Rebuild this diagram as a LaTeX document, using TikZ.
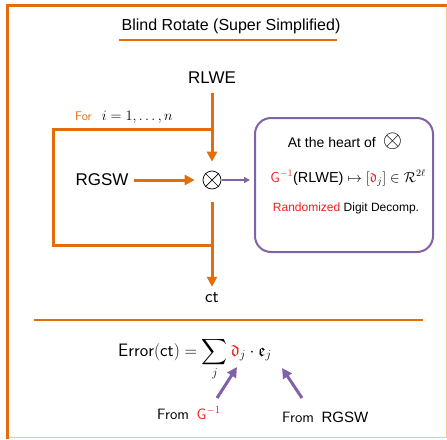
\documentclass[tikz,border=0pt]{standalone}
\usepackage{amsmath,amssymb}
\usepackage{fontspec}
\newfontfamily\arial{Liberation Sans}
\usetikzlibrary{arrows.meta}
\definecolor{brorange}{HTML}{E46C0A}
\definecolor{brpale}{HTML}{F6C79A}
\definecolor{brpurple}{HTML}{7F62A8}
\definecolor{brred}{HTML}{F01E1E}
\newcommand{\fsz}[1]{\fontsize{#1}{#1}\selectfont}
\begin{document}
\begin{tikzpicture}[x=1pt,y=-1pt,
  flow/.style={draw=brorange, line width=3pt, -{Triangle[width=10pt,length=10pt]}},
  wire/.style={draw=brorange, line width=3pt},
  hint/.style={draw=brpurple, line width=3pt, -{Triangle[width=10pt,length=10pt]}},
  link/.style={draw=brpurple, line width=1.6pt, -{Triangle[width=6pt,length=6pt]}},
  lbl/.style={inner sep=0pt, font=\arial\fsz{17}},
  boxtxt/.style={inner sep=0pt, font=\arial\fsz{14}},
  mul/.style={circle, draw, line width=0.7pt, minimum size=18pt, inner sep=0pt}
]
\useasboundingbox (0,0) rectangle (447,439);
% outer frame
\draw[brpale, line width=1pt] (7.5,5.5) rectangle (446,437.5);
\draw[brorange, line width=3pt] (7.5,439) -- (7.5,5.5) -- (447,5.5);

% title with underline
\node[inner sep=0pt, font=\arial\fsz{16}] (title) at (231,26) {Blind Rotate (Super Simplified)};
\draw[brorange, line width=2pt] (119,39.5) -- (337,39.5);

% blind rotation loop
\node[lbl] (rlwe) at (212,78) {RLWE};
\node[lbl] (rgsw) at (102,180) {RGSW};
\node[mul] (ot) at (212,180) {};
\draw[line width=0.7pt] (ot.north west) -- (ot.south east) (ot.north east) -- (ot.south west);
\node[inner sep=0pt, font=\sffamily\fsz{18}] (ct) at (212,298) {ct};

\coordinate (jt) at (212,129);
\coordinate (lt) at (53,129);
\coordinate (lb) at (53,245);
\coordinate (jb) at (212,245);
\draw[wire] (jt) -- (lt) -- (lb) -- (jb);
\draw[flow] ([yshift=-9pt]rlwe.south) -- ([yshift=9pt]ot.north);
\draw[flow] ([xshift=5pt]rgsw.east) -- ([xshift=-8pt]ot.west);
\draw[flow] ([yshift=-13pt]ot.south) -- ([yshift=6pt]ct.north);

\node[inner sep=0pt, anchor=base west] (loop) at (75,120)
  {{\color{brorange}\sffamily\fsz{12.5}For}\quad{\fsz{15}$i=1,\ldots,n$}};

% explanation box
\node[draw=brpurple, line width=2pt, rounded corners=16pt,
      minimum width=178pt, minimum height=134pt] (heart) at (344,185) {};
\draw[link] ([xshift=1pt]ot.east) -- ([xshift=-4pt]heart.west |- ot.east);
\node[boxtxt] (h1) at (345,141)
  {At the heart of\enspace{\fsz{23}$\otimes$}};
\node[boxtxt, font=\arial\fsz{14.5}] (h2) at (348,178)
  {{\color{brred}$\mathsf{G}^{-1}$}(RLWE) $\mapsto[{\color{brred}\mathfrak{d}}_j]\in\mathcal{R}^{2\ell}$};
\node[inner sep=0pt, font=\arial\fsz{12}] (h3) at (346,208)
  {{\color{brred}Randomized} Digit Decomp.};

% separator
\draw[brorange, line width=2pt] (34,320) -- (423,320);

% error formula
\node[inner sep=0pt, anchor=base west, font=\fsz{18}] (err) at (118,356)
  {$\mathsf{Error}(\mathsf{ct})=\displaystyle\sum_j{\color{brred}\mathfrak{d}}_j\cdot\mathfrak{e}_j$};

\node[inner sep=0pt, anchor=west, font=\sffamily\fsz{15}] (fromg) at (157,413)
  {From\enspace{\color{brred}$\mathsf{G}^{-1}$}};
\node[inner sep=0pt, anchor=west, font=\sffamily\fsz{15}] (fromr) at (282,417)
  {From\enspace{\arial RGSW}};
\coordinate (dtail) at (217,398);
\coordinate (dtip) at (237,367);
\coordinate (etail) at (302,398);
\coordinate (etip) at (282,368);
\draw[hint] (dtail) -- (dtip);
\draw[hint] (etail) -- (etip);
\end{tikzpicture}
\end{document}
